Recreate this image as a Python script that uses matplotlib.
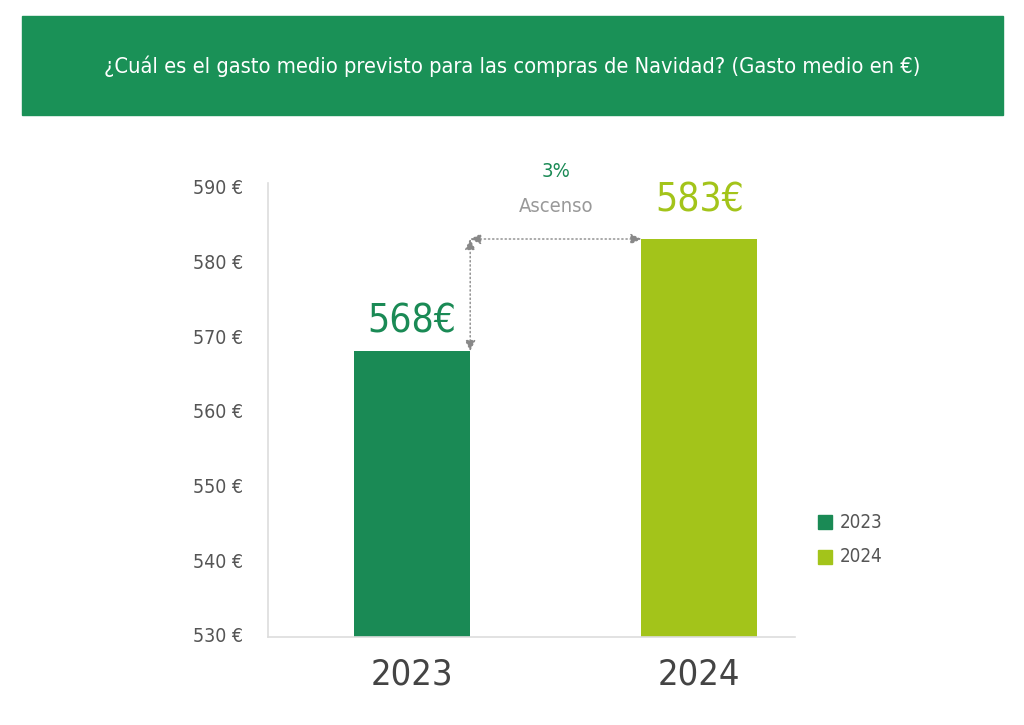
import matplotlib
matplotlib.use("Agg")
import matplotlib.pyplot as plt
from matplotlib.patches import Rectangle

years = ["2023", "2024"]
values = [568, 583]
colors = ["#1a8a55", "#a3c41a"]
yticks = [530, 540, 550, 560, 570, 580, 590]
change_pct = "3%"
change_label = "Ascenso"
title = "¿Cuál es el gasto medio previsto para las compras de Navidad? (Gasto medio en €)"

plt.rcParams['font.family'] = ['DejaVu Sans']
plt.rcParams['font.stretch'] = 'condensed'

W, H = 1024, 725
fig = plt.figure(figsize=(W / 100, H / 100), dpi=100)

# banner
fig.patches.append(Rectangle((22 / W, 1 - 115 / H), (1003 - 22) / W, (115 - 16) / H,
                             transform=fig.transFigure, color="#1a9157", zorder=0))
fig.text(512 / W, 1 - 66 / H, title, color="white", fontsize=15.7,
         ha="center", va="center")

# axes: x 268..795, y 183..637 px
ax = fig.add_axes([268 / W, 1 - 637 / H, (795 - 268) / W, (637 - 183) / H])
x = [0, 1]
bw = 0.404
bars = ax.bar(x, values, width=bw, color=colors, zorder=2)
ax.set_ylim(529.7, 590.5)
ax.set_xlim(-0.502, 1.333)
ax.set_yticks(yticks)
ax.set_yticklabels([f"{v} €" for v in yticks], fontsize=14, color="#555555")
ax.tick_params(axis="both", length=0)
ax.set_xticks(x)
ax.set_xticklabels(years, fontsize=26, color="#444444")
ax.tick_params(axis="y", pad=18)
ax.tick_params(axis="x", pad=15)
for s in ["top", "right"]:
    ax.spines[s].set_visible(False)
for s in ["left", "bottom"]:
    ax.spines[s].set_color("#dddddd")
    ax.spines[s].set_linewidth(1.2)

# value labels
offsets = [1.4, 2.6]
for xi, v, c, off in zip(x, values, colors, offsets):
    ax.text(xi, v + off, f"{v}€", ha="center", va="bottom", fontsize=28,
            color=c)

# arrows
xr = x[0] + bw / 2
xl = x[1] - bw / 2
arrow_kw = dict(arrowstyle="<|-|>", color="#888888", lw=1, linestyle=(0, (1, 2)),
                mutation_scale=16, shrinkA=0, shrinkB=0)
ax.annotate("", xy=(xr, values[1]), xytext=(xr, values[0]),
            arrowprops=arrow_kw, zorder=3)
ax.annotate("", xy=(xl, values[1]), xytext=(xr, values[1]),
            arrowprops=arrow_kw, zorder=3)
xm = (xr + xl) / 2
ax.text(xm, 592.0, change_pct, ha="center", va="center", fontsize=14.5, color="#1a8a55")
ax.text(xm, 587.3, change_label, ha="center", va="center", fontsize=14.5, color="#999999")

# legend
for i, (yr, c) in enumerate(zip(years, colors)):
    yp = 522 + 35 * i
    fig.patches.append(Rectangle((818 / W, 1 - (yp + 7) / H), 14 / W, 14 / H,
                                 transform=fig.transFigure, color=c))
    fig.text(840 / W, 1 - yp / H, yr, fontsize=13.5, color="#555555",
             ha="left", va="center")

fig.savefig("out.png", dpi=100)
